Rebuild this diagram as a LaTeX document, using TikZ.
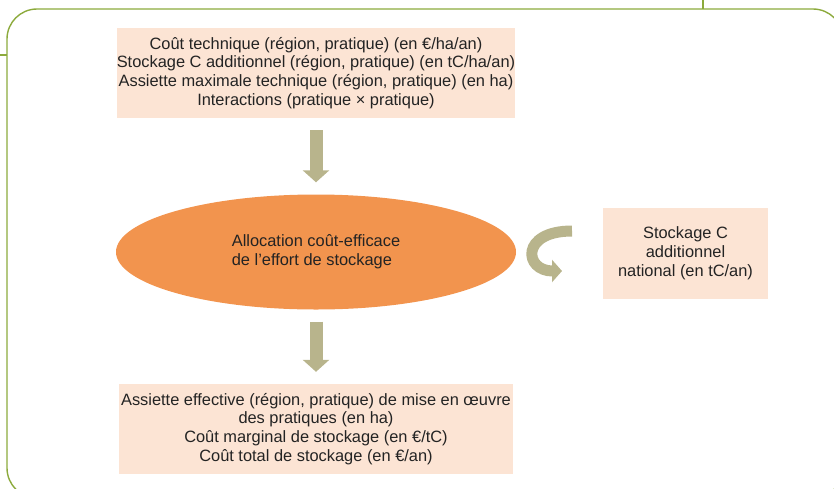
\documentclass[tikz,border=0pt]{standalone}
\usepackage{fontspec}
\setmainfont{Liberation Sans}
\usetikzlibrary{shapes.geometric,arrows.meta}
\definecolor{peach}{RGB}{252,228,212}
\definecolor{orangefill}{RGB}{242,148,78}
\definecolor{khaki}{RGB}{184,180,140}
\definecolor{olive}{RGB}{140,170,60}
\definecolor{ink}{RGB}{35,35,35}
\begin{document}
\begin{tikzpicture}
	[
	x=1pt, y=-1pt,
	font=\fontsize{16.4}{18.8}\selectfont,
	text=ink,
	box/.style={rectangle, fill=peach, align=center, inner sep=0pt},
	alloc/.style={ellipse, fill=orangefill, inner sep=0pt, minimum width=400pt, minimum height=115pt, align=left},
	bigarrow/.style={draw=khaki, line width=13pt, -{Triangle[width=26pt,length=12pt]}, shorten <=12pt, shorten >=12pt}
	]
		\clip (0,0) rectangle (834,488);
		\useasboundingbox (0,0) rectangle (834,488);
		% frame
		\draw [olive, line width=1.4pt, rounded corners=30pt] (7,9) rectangle (843,498);
		\draw [olive, line width=1.4pt] (0,55) -- (7,55);
		\draw [olive, line width=1.4pt] (703,0) -- (703,9);

		% boxes
		\node (inputs) [box, minimum width=395pt, minimum height=90pt] at (316,73)
			{Coût technique (région, pratique) (en €/ha/an)\\
			 Stockage C additionnel (région, pratique) (en tC/ha/an)\\
			 Assiette maximale technique (région, pratique) (en ha)\\
			 Interactions (pratique × pratique)};
		\node (effort) [alloc] at (316,252)
			{Allocation coût-efficace\\de l’effort de stockage};
		\node (outputs) [box, minimum width=394pt, minimum height=90pt] at (316,429)
			{Assiette effective (région, pratique) de mise en œuvre\\
			 des pratiques (en ha)\\
			 Coût marginal de stockage (en €/tC)\\
			 Coût total de stockage (en €/an)};
		\node (national) [box, minimum width=165pt, minimum height=91pt] at (685.5,253.5)
			{Stockage C\\additionnel\\national (en tC/an)};

		% curved arrow
		\coordinate (loopstart) at (572,231);
		\coordinate (loopend) at (562,271);
		\draw [khaki, line width=11pt, -{Triangle[width=22pt,length=10pt]}]
			(loopstart) .. controls (520,231) and (524,271) .. (loopend);

		% drawing code
		\foreach \from/\to in {inputs/effort,effort/outputs} \draw [bigarrow] (\from) -- (\to);
	\end{tikzpicture}
\end{document}
